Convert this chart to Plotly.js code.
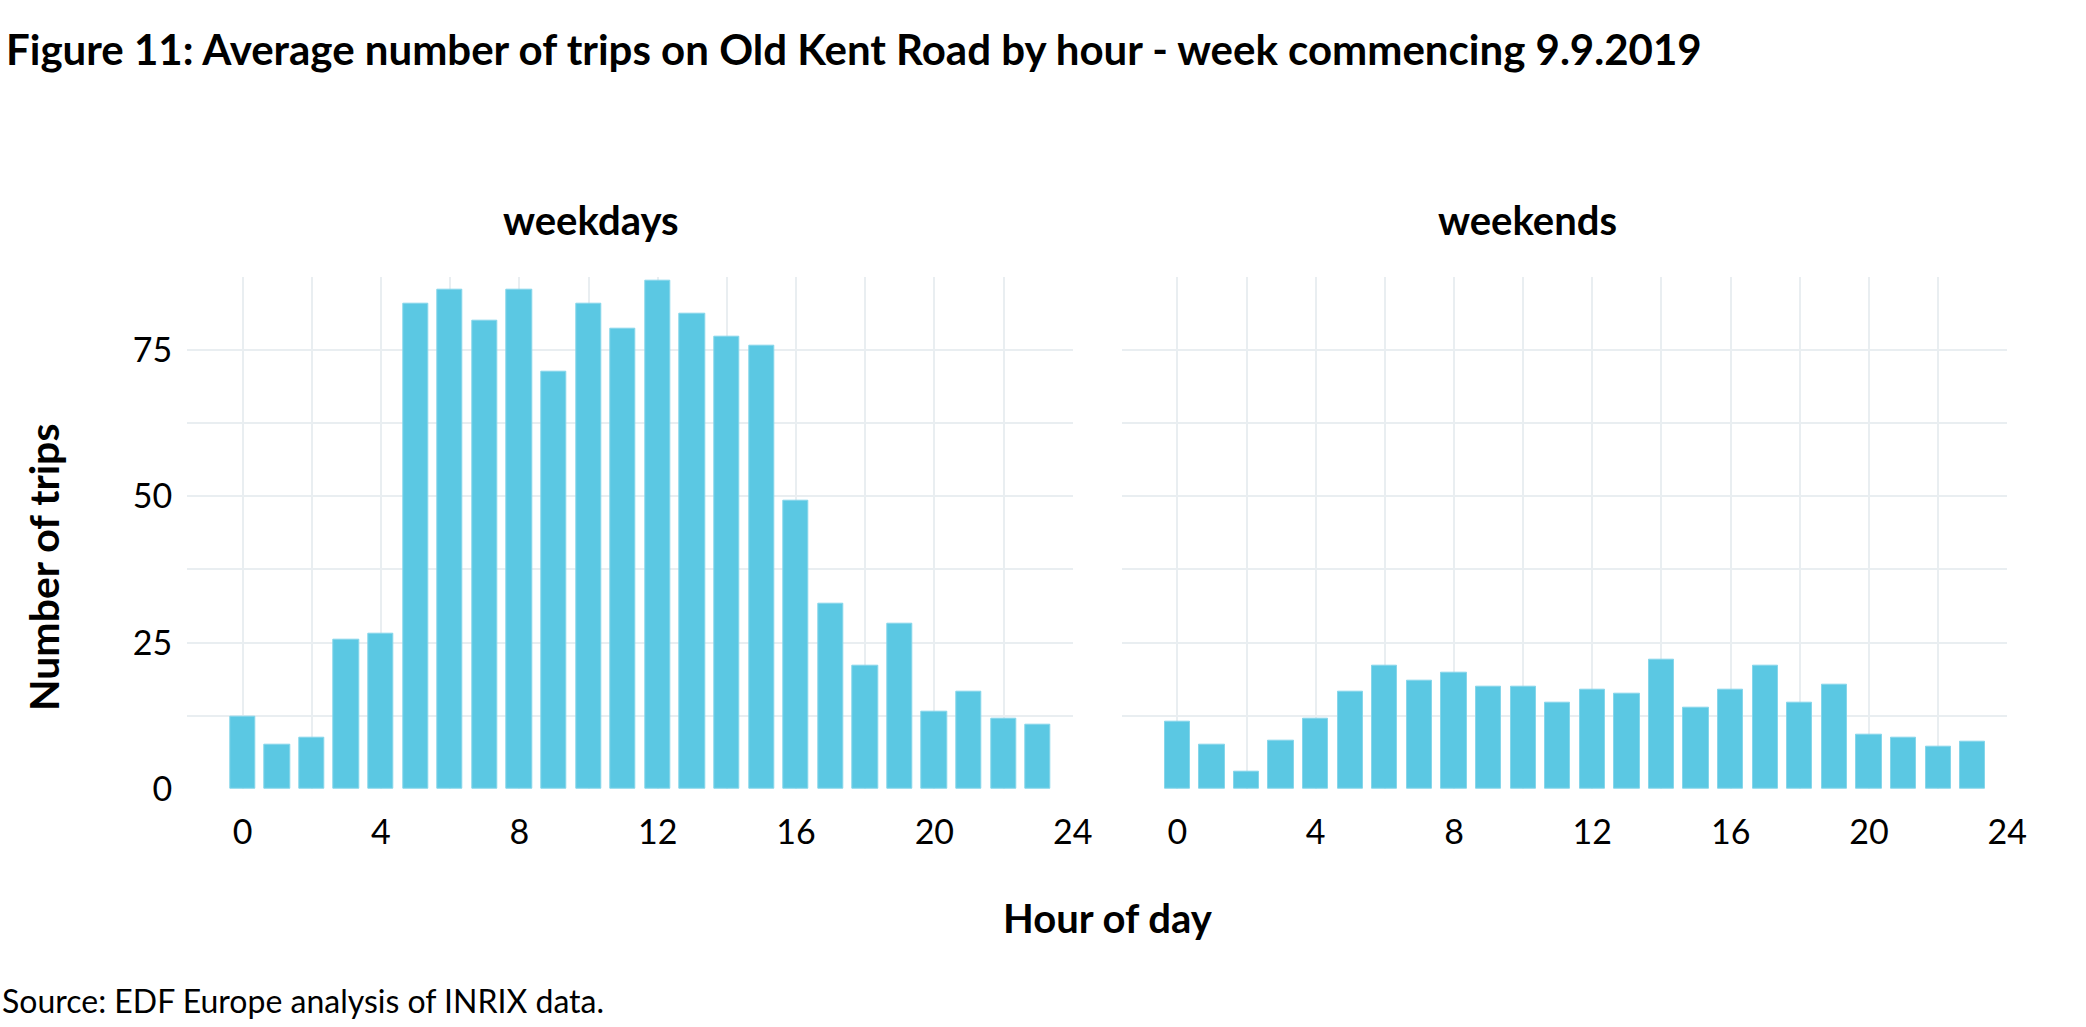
<!DOCTYPE html>
<html>
<head>
<meta charset="utf-8">
<script src="https://cdn.plot.ly/plotly-3.0.1.min.js"></script>
<style>
  html, body { margin: 0; padding: 0; background: #ffffff; }
  #chart { width: 2086px; height: 1027px; }
</style>
</head>
<body>
<div id="chart"></div>
<script>
// ---- data ----
const hours = [0,1,2,3,4,5,6,7,8,9,10,11,12,13,14,15,16,17,18,19,20,21,22,23];
const weekdayTrips = [12.3,7.6,8.7,25.5,26.6,82.9,85.2,80.0,85.2,71.2,82.9,78.7,86.8,81.2,77.2,75.8,49.3,31.7,21.1,28.2,13.2,16.7,12.0,10.9];
const weekendTrips = [11.5,7.6,3.0,8.2,12.0,16.7,21.1,18.5,19.9,17.5,17.5,14.7,17.0,16.2,22.0,13.9,17.0,21.1,14.7,17.9,9.2,8.8,7.2,8.0];
const panelLabels = ["weekdays", "weekends"];
const xTicks = [0,4,8,12,16,20,24];
const yTicks = [0,25,50,75];
const chartTitle = "Figure 11: Average number of trips on Old Kent Road by hour - week commencing 9.9.2019";
const xTitle = "Hour of day";
const yTitle = "Number of trips";
const sourceText = "Source: EDF Europe analysis of INRIX data.";

// ---- style ----
const W = 2086, H = 1027;
const px = v => v / W;
const py = v => 1 - v / H;
const barColor = "#5bc8e3";
const gridColor = "#e9eef1";
const FONT = "Lato, 'Noto Sans', sans-serif";

const traces = [
  { type: "bar", x: hours, y: weekdayTrips, width: 0.73, xaxis: "x", yaxis: "y",
    marker: { color: barColor, line: { color: "#86d6ea", width: 1 } }, hoverinfo: "x+y" },
  { type: "bar", x: hours, y: weekendTrips, width: 0.73, xaxis: "x2", yaxis: "y2",
    marker: { color: barColor, line: { color: "#86d6ea", width: 1 } }, hoverinfo: "x+y" }
];

function xAxis(domain, anchor) {
  return {
    domain: domain, anchor: anchor, range: [-1.6, 24], tickmode: "array", tickvals: xTicks,
    ticktext: xTicks.map(String), showgrid: true, gridcolor: gridColor, gridwidth: 2,
    minor: { dtick: 2, tick0: 0, showgrid: true, gridcolor: gridColor, gridwidth: 2 },
    zeroline: false, showline: false, ticks: "", ticklabelstandoff: 20,
    tickfont: { family: FONT, size: 34, color: "#000" }, fixedrange: true
  };
}
function yAxis(anchor, showLabels) {
  return {
    domain: [py(789), py(276.7)], anchor: anchor, range: [0, 87.5], tickmode: "array",
    tickvals: yTicks, ticktext: yTicks.map(String), showticklabels: showLabels,
    showgrid: true, gridcolor: gridColor, gridwidth: 2,
    minor: { dtick: 12.5, tick0: 0, showgrid: true, gridcolor: gridColor, gridwidth: 2 },
    zeroline: false, showline: false, ticks: "", ticklabelstandoff: 14,
    tickfont: { family: FONT, size: 34, color: "#000" }, fixedrange: true
  };
}

const layout = {
  width: W, height: H,
  margin: { l: 0, r: 0, t: 0, b: 0 },
  paper_bgcolor: "#ffffff", plot_bgcolor: "#ffffff",
  showlegend: false, bargap: 0,
  font: { family: FONT, color: "#000" },
  xaxis: xAxis([px(187.3), px(1072.7)], "y"),
  yaxis: yAxis("x", true),
  xaxis2: xAxis([px(1122), px(2007.3)], "y2"),
  yaxis2: yAxis("x2", false),
  annotations: [
    { text: "<b>" + chartTitle + "</b>", xref: "paper", yref: "paper", x: px(4), y: py(49),
      xanchor: "left", yanchor: "middle", showarrow: false, font: { family: FONT, size: 42, color: "#000" } },
    { text: "<b>" + panelLabels[0] + "</b>", xref: "paper", yref: "paper", x: px(591), y: py(220),
      xanchor: "center", yanchor: "middle", showarrow: false, font: { family: FONT, size: 40, color: "#000" } },
    { text: "<b>" + panelLabels[1] + "</b>", xref: "paper", yref: "paper", x: px(1527), y: py(220),
      xanchor: "center", yanchor: "middle", showarrow: false, font: { family: FONT, size: 40, color: "#000" } },
    { text: "<b>" + xTitle + "</b>", xref: "paper", yref: "paper", x: px(1108), y: py(918),
      xanchor: "center", yanchor: "middle", showarrow: false, font: { family: FONT, size: 40, color: "#000" } },
    { text: "<b>" + yTitle + "</b>", xref: "paper", yref: "paper", x: px(43), y: py(568),
      xanchor: "center", yanchor: "middle", textangle: -90, showarrow: false, font: { family: FONT, size: 41, color: "#000" } },
    { text: sourceText, xref: "paper", yref: "paper", x: px(0), y: py(1000),
      xanchor: "left", yanchor: "middle", showarrow: false, font: { family: FONT, size: 32, color: "#000" } }
  ]
};

Plotly.newPlot("chart", traces, layout, { displayModeBar: false, staticPlot: false });
</script>
</body>
</html>
